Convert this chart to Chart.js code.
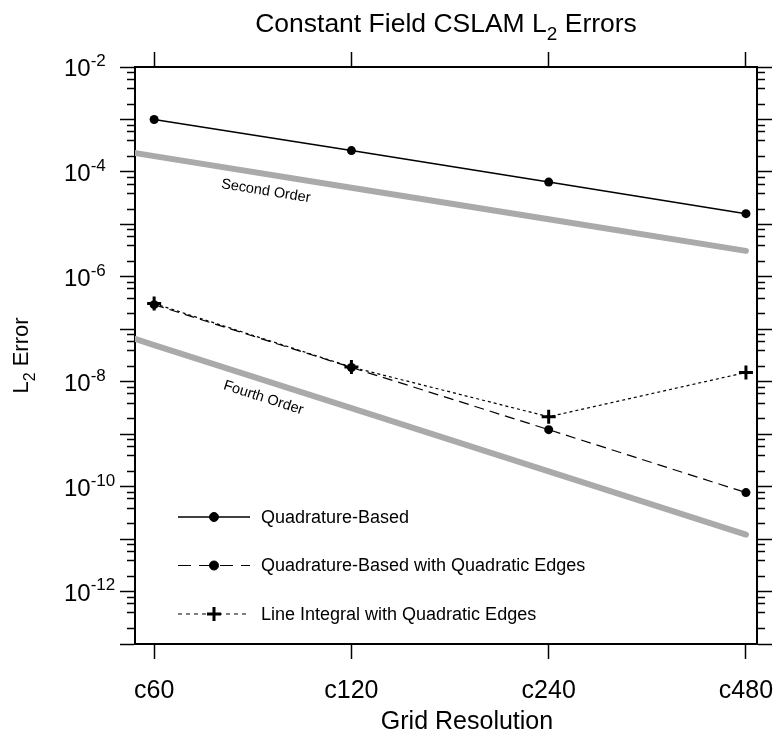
<!DOCTYPE html>
<html>
<head>
<meta charset="utf-8">
<script src="https://cdn.jsdelivr.net/npm/chart.js@4.4.1/dist/chart.umd.min.js"></script>
<style>
  html, body { margin: 0; padding: 0; background: #fff; }
  canvas { display: block; }
</style>
</head>
<body>
<canvas id="errChart" width="777" height="741"></canvas>
<script>
const resolutions = ['c60', 'c120', 'c240', 'c480'];
const quadBased = [1.0e-3, 2.55e-4, 6.4e-5, 1.6e-5];
const quadEdges = [2.95e-7, 1.87e-8, 1.22e-9, 7.7e-11];
const lineIntegral = [3.1e-7, 1.9e-8, 2.15e-9, 1.5e-8];

// reference slopes start one step left of c60 so they run off the frame
const refSteps = [-1, 0, 1, 2, 3];
const secondOrder = [8e-4, 2e-4, 5e-5, 1.25e-5, 3.125e-6];
const fourthOrder = [8e-7, 5e-8, 3.125e-9, 1.953e-10, 1.221e-11];

const yExponents = [-13, -12, -11, -10, -9, -8, -7, -6, -5, -4, -3, -2];
const yLabelExponents = [-12, -10, -8, -6, -4, -2];
const minorMantissas = [2, 4, 6, 8];

const FONT = '"Liberation Sans", Arial, Helvetica, sans-serif';
Chart.defaults.font.family = FONT;
Chart.defaults.color = '#000';

function toPoints(xs, ys) {
    return ys.map((y, i) => ({ x: xs[i], y: y }));
}
const resIdx = resolutions.map((_, i) => i);

function xAxis(position) {
    return {
        type: 'linear',
        position: position,
        min: -0.097,
        max: 3.056,
        z: 1,
        afterBuildTicks: s => { s.ticks = resIdx.map(i => ({ value: i })); },
        afterFit: s => {
            s.height = position === 'bottom' ? 97 : 67;
            s.paddingLeft = 0;
            s.paddingRight = 0;
        },
        grid: { drawOnChartArea: false, tickLength: 15, tickWidth: 1.5, tickColor: '#000' },
        border: { display: true, color: '#000', width: 2 },
        ticks: {
            display: position === 'bottom',
            autoSkip: false,
            maxRotation: 0,
            padding: 17,
            font: { size: 25 },
            callback: v => resolutions[v]
        }
    };
}

function yAxis(position) {
    return {
        type: 'logarithmic',
        position: position,
        min: 1e-13,
        max: 1e-2,
        z: 1,
        afterBuildTicks: s => { s.ticks = yExponents.map(e => ({ value: Math.pow(10, e), major: true })); },
        afterFit: s => {
            s.width = position === 'left' ? 135 : 20;
            s.paddingTop = 0;
            s.paddingBottom = 0;
        },
        grid: { drawOnChartArea: false, tickLength: 15, tickWidth: 1.5, tickColor: '#000' },
        border: { display: true, color: '#000', width: 2 },
        ticks: { display: false }
    };
}

// text with sub/superscript pieces
function drawRich(ctx, parts, x, y, size, align) {
    const fontOf = p => ((p.sub || p.sup) ? Math.round(size * 0.72) : size) + 'px ' + FONT;
    let w = 0;
    parts.forEach(p => { ctx.font = fontOf(p); w += ctx.measureText(p.t).width; });
    let cx = align === 'center' ? x - w / 2 : x;
    ctx.textAlign = 'left';
    ctx.textBaseline = 'alphabetic';
    parts.forEach(p => {
        ctx.font = fontOf(p);
        const dy = p.sub ? size * 0.3 : (p.sup ? -size * 0.42 : 0);
        ctx.fillText(p.t, cx, y + dy);
        cx += ctx.measureText(p.t).width;
    });
}

const legendItems = [
    { text: 'Quadrature-Based', dash: [], style: 'circle', radius: 4.5, width: 1.5 },
    { text: 'Quadrature-Based with Quadratic Edges', dash: [13, 8], style: 'circle', radius: 4.5, width: 1.2 },
    { text: 'Line Integral with Quadratic Edges', dash: [4, 4], style: 'cross', radius: 7, width: 1.2 }
];

const decorPlugin = {
    id: 'decor',
    afterDraw(chart) {
        const ctx = chart.ctx;
        const area = chart.chartArea;
        const x = chart.scales.x;
        const y = chart.scales.y;
        ctx.save();
        ctx.fillStyle = '#000';
        ctx.strokeStyle = '#000';

        // minor ticks on both y sides
        ctx.lineWidth = 1.5;
        ctx.beginPath();
        yExponents.slice(0, -1).forEach(e => {
            minorMantissas.forEach(m => {
                const py = Math.round(y.getPixelForValue(m * Math.pow(10, e))) + 0.5;
                ctx.moveTo(area.left, py); ctx.lineTo(area.left - 8, py);
                ctx.moveTo(area.right, py); ctx.lineTo(area.right + 8, py);
            });
        });
        ctx.stroke();

        // y tick labels 10^n
        yLabelExponents.forEach(e => {
            const py = y.getPixelForValue(Math.pow(10, e));
            drawRich(ctx, [{ t: '10' }, { t: String(e), sup: true }], 64, py + 9, 24, 'left');
        });

        // title and axis titles
        const mid = (area.left + area.right) / 2;
        drawRich(ctx, [{ t: 'Constant Field CSLAM L' }, { t: '2', sub: true }, { t: ' Errors' }], mid, 32, 26.5, 'center');
        drawRich(ctx, [{ t: 'Grid Resolution' }], mid + 21, 729, 25, 'center');
        ctx.save();
        ctx.translate(28, (area.top + area.bottom) / 2);
        ctx.rotate(-Math.PI / 2);
        drawRich(ctx, [{ t: 'L' }, { t: '2', sub: true }, { t: ' Error' }], 0, 0, 22, 'center');
        ctx.restore();

        // slope labels under the grey reference lines
        [[secondOrder, 'Second Order'], [fourthOrder, 'Fourth Order']].forEach(([vals, label]) => {
            const x0 = x.getPixelForValue(0), x1 = x.getPixelForValue(1);
            const y0 = y.getPixelForValue(vals[1]), y1 = y.getPixelForValue(vals[2]);
            const t = 0.58;
            ctx.save();
            ctx.translate(x0 + t * (x1 - x0), y0 + t * (y1 - y0));
            ctx.rotate(Math.atan2(y1 - y0, x1 - x0));
            ctx.font = '14.5px ' + FONT;
            ctx.textAlign = 'center';
            ctx.textBaseline = 'middle';
            ctx.fillText(label, 0, 17);
            ctx.restore();
        });

        // legend inside the plot
        legendItems.forEach((it, i) => {
            const ly = area.top + 450 + i * 48.5;
            const lx0 = area.left + 43, lx1 = area.left + 115, mx = area.left + 79;
            ctx.lineWidth = it.width;
            ctx.setLineDash(it.dash);
            ctx.beginPath();
            ctx.moveTo(lx0, ly); ctx.lineTo(lx1, ly);
            ctx.stroke();
            ctx.setLineDash([]);
            ctx.lineWidth = it.style === 'cross' ? 3 : 1;
            Chart.helpers.drawPoint(ctx, { pointStyle: it.style, radius: it.radius, borderWidth: ctx.lineWidth, rotation: 0 }, mx, ly);
            ctx.font = '18px ' + FONT;
            ctx.textAlign = 'left';
            ctx.textBaseline = 'middle';
            ctx.fillText(it.text, area.left + 126, ly + 1);
        });
        ctx.restore();
    }
};

new Chart(document.getElementById('errChart').getContext('2d'), {
    type: 'line',
    data: {
        datasets: [
            {
                label: 'Second Order',
                data: toPoints(refSteps, secondOrder),
                borderColor: '#aaaaaa',
                borderWidth: 6,
                borderCapStyle: 'round',
                pointRadius: 0,
                clip: 0,
                order: 5
            },
            {
                label: 'Fourth Order',
                data: toPoints(refSteps, fourthOrder),
                borderColor: '#aaaaaa',
                borderWidth: 6,
                borderCapStyle: 'round',
                pointRadius: 0,
                clip: 0,
                order: 4
            },
            {
                label: 'Quadrature-Based',
                data: toPoints(resIdx, quadBased),
                borderColor: '#000',
                borderWidth: 1.5,
                pointStyle: 'circle',
                pointRadius: 4.5,
                pointBorderWidth: 0,
                pointBackgroundColor: '#000',
                order: 1
            },
            {
                label: 'Quadrature-Based with Quadratic Edges',
                data: toPoints(resIdx, quadEdges),
                borderColor: '#000',
                borderWidth: 1.2,
                borderDash: [10, 6],
                pointStyle: 'circle',
                pointRadius: 4.5,
                pointBorderWidth: 0,
                pointBackgroundColor: '#000',
                order: 2
            },
            {
                label: 'Line Integral with Quadratic Edges',
                data: toPoints(resIdx, lineIntegral),
                borderColor: '#000',
                borderWidth: 1.2,
                borderDash: [3, 3],
                pointStyle: 'cross',
                pointRadius: 7,
                pointBorderWidth: 3,
                pointBorderColor: '#000',
                order: 3
            }
        ]
    },
    options: {
        responsive: false,
        animation: false,
        devicePixelRatio: 1,
        layout: { padding: 0 },
        elements: { line: { tension: 0, fill: false } },
        plugins: { legend: { display: false }, tooltip: { enabled: false }, title: { display: false } },
        scales: {
            x: xAxis('bottom'),
            x2: xAxis('top'),
            y: yAxis('left'),
            y2: yAxis('right')
        }
    },
    plugins: [decorPlugin]
});
</script>
</body>
</html>
